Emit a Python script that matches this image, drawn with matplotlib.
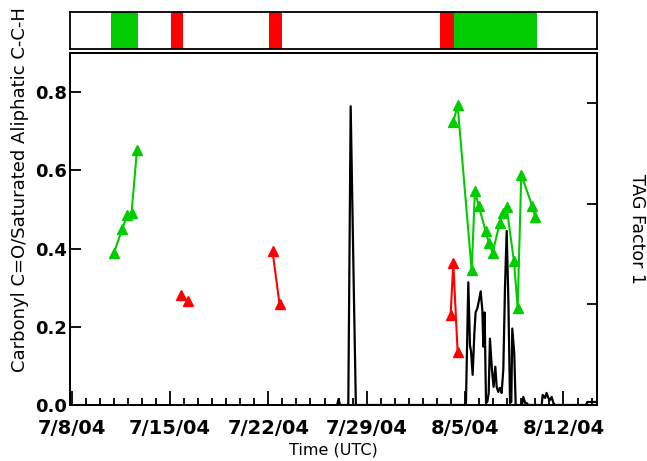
import datetime as dt
import matplotlib
matplotlib.use('Agg')
import matplotlib.pyplot as plt
import matplotlib.dates as mdates
import numpy as np

# time axis: days since 7/8/04 (UTC)
start = dt.datetime(2004, 7, 8)

# carbonyl ratio, green periods
green1_days = [3.01, 3.60, 3.98, 4.27, 4.65]
green1_vals = [0.388, 0.450, 0.486, 0.491, 0.652]
green2_days = [27.16, 27.47, 28.47, 28.70, 28.97, 29.47, 29.70, 29.96, 30.46,
               30.72, 30.96, 31.48, 31.74, 32.00, 32.77, 33.00]
green2_vals = [0.724, 0.766, 0.344, 0.546, 0.509, 0.444, 0.414, 0.389, 0.465,
               0.492, 0.505, 0.367, 0.249, 0.588, 0.510, 0.480]

# carbonyl ratio, red periods
red1_days = [7.76, 8.26]
red1_vals = [0.282, 0.266]
red2_days = [14.30, 14.80]
red2_vals = [0.393, 0.257]
red3_days = [26.97, 27.16, 27.47]
red3_vals = [0.229, 0.363, 0.136]

# TAG factor 1
tag_days = [18.9, 19.0, 19.1, 19.69, 19.86, 20.09, 20.23, 20.5,
            28.0, 28.06, 28.23, 28.35, 28.42, 28.54, 28.66, 28.75, 28.87, 28.99,
            29.11, 29.23, 29.30, 29.39, 29.49, 29.58, 29.68, 29.77, 29.91, 30.03,
            30.15, 30.25, 30.36, 30.48, 30.60, 30.72, 30.84, 30.96, 31.08, 31.20,
            31.29, 31.36, 31.50, 31.60, 32.05, 32.14, 32.28, 32.38, 32.5,
            33.45, 33.52, 33.69, 33.80, 33.92, 34.04, 34.16, 34.28, 34.4,
            36.6, 36.7, 37.3]
tag_vals = [0.0, 0.06, 0.0, 0.0, 2.97, 1.09, 0.0, 0.0,
            0.0, 0.0, 1.22, 0.59, 0.54, 0.30, 0.71, 0.92, 0.96, 1.04,
            1.13, 0.94, 0.58, 0.92, 0.02, 0.03, 0.12, 0.66, 0.35, 0.18,
            0.38, 0.18, 0.13, 0.17, 0.12, 0.35, 1.17, 1.73, 1.04, 0.02,
            0.03, 0.76, 0.51, 0.0, 0.0, 0.08, 0.02, 0.02, 0.0,
            0.0, 0.10, 0.07, 0.12, 0.07, 0.05, 0.08, 0.02, 0.0,
            0.0, 0.03, 0.03]

# sampling periods shown in the top strip (start day, end day)
green_periods = [(2.80, 4.73), (27.20, 33.10)]
red_periods = [(7.07, 7.93), (14.05, 14.97), (26.20, 27.20)]

GREEN = '#00cc00'
RED = '#ff0000'


def to_dates(days):
    return [mdates.date2num(start + dt.timedelta(days=d)) for d in days]


xmin = mdates.date2num(start + dt.timedelta(days=-0.12))
xmax = mdates.date2num(start + dt.timedelta(days=37.4))

fig = plt.figure(figsize=(6.47, 4.61), dpi=100)
ax = fig.add_axes([0.108, 0.1215, 0.815, 0.7635])
ax2 = ax.twinx()
strip = fig.add_axes([0.108, 0.8946, 0.815, 0.0794])

ax2.plot(to_dates(tag_days), tag_vals, color='black', lw=1.6)
ax.set_zorder(ax2.get_zorder() + 1)
ax.patch.set_visible(False)

for days, vals in [(green1_days, green1_vals), (green2_days, green2_vals)]:
    ax.plot(to_dates(days), vals, color=GREEN, lw=1.5, marker='^', ms=7.5, mec=GREEN)
for days, vals in [(red1_days, red1_vals), (red2_days, red2_vals), (red3_days, red3_vals)]:
    ax.plot(to_dates(days), vals, color=RED, lw=1.5, marker='^', ms=7.5, mec=RED)

ax.set_xlim(xmin, xmax)
ax.set_ylim(0, 0.9)
ax.set_yticks([0.0, 0.2, 0.4, 0.6, 0.8])
ax.yaxis.set_major_formatter(matplotlib.ticker.FormatStrFormatter('%.1f'))
ax2.set_ylim(0, 3.5)
ax2.set_yticks([0, 1, 2, 3])
ax2.set_yticklabels([])

week_ticks = to_dates([0, 7, 14, 21, 28, 35])
ax.set_xticks(week_ticks)
ax.set_xticklabels(['7/8/04', '7/15/04', '7/22/04', '7/29/04', '8/5/04', '8/12/04'])
ax.set_xticks(to_dates(range(0, 38)), minor=True)

ax.tick_params(axis='x', which='major', direction='in', length=10, width=1.3, pad=10)
ax.tick_params(axis='x', which='minor', direction='in', length=5, width=1.3)
ax.tick_params(axis='y', direction='in', length=8, width=1.3, pad=2)
ax2.tick_params(axis='y', direction='in', length=7, width=1.3)
for t in ax.get_xticklabels():
    t.set_fontsize(14)
    t.set_fontweight('bold')
for t in ax.get_yticklabels():
    t.set_fontsize(13)
    t.set_fontweight('bold')

for a in [ax, ax2, strip]:
    for s in a.spines.values():
        s.set_linewidth(1.3)

ax.set_xlabel('Time (UTC)', fontsize=11.5, labelpad=3)
fig.text(20 / 647, 1 - 190 / 461, 'Carbonyl C=O/Saturated Aliphatic C-C-H',
         rotation=90, ha='center', va='center', fontsize=13)
ax2.set_ylabel('TAG Factor 1', rotation=270, fontsize=12.5, labelpad=32)

for a, b in green_periods:
    strip.axvspan(to_dates([a])[0], to_dates([b])[0], color=GREEN, lw=0)
for a, b in red_periods:
    strip.axvspan(to_dates([a])[0], to_dates([b])[0], color=RED, lw=0)
strip.set_xlim(xmin, xmax)
strip.set_ylim(0, 1)
strip.set_xticks([])
strip.set_yticks([])

fig.savefig('out.png', dpi=100)
